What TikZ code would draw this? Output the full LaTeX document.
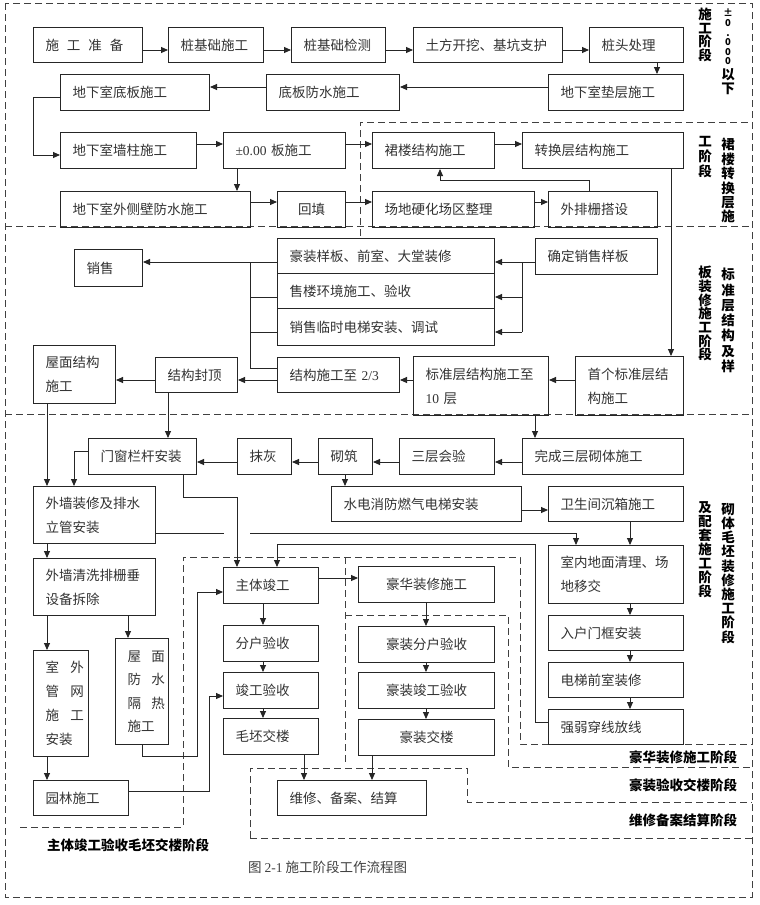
\documentclass[tikz,border=0pt]{standalone}
\usepackage{fontspec}
\setmainfont{Noto Sans CJK SC}
\newfontfamily\lat{Liberation Serif}
\usetikzlibrary{arrows.meta}
\tikzset{
  box/.style={draw=black!85, line width=1pt, inner xsep=12pt, inner ysep=2pt, align=left,
    font=\fontsize{13.5}{24}\selectfont, text=black!80},
  ln/.style={line width=0.9pt, draw=black!85},
  arr/.style={ln, -{Triangle[length=7pt,width=6pt]}},
  zone/.style={line width=1pt, draw=black!75, dash pattern=on 7pt off 4pt},
  lab/.style={inner sep=0pt, align=center, text=black},
}
\newcommand\bx[7][]{%
  \pgfmathsetmacro\bw{#5-#3}\pgfmathsetmacro\bh{#6-#4}\pgfmathsetmacro\tw{#5-#3-24}%
  \node[box,minimum width=\bw pt,minimum height=\bh pt,text width=\tw pt,anchor=north west,#1] (#2) at (#3,#4) {#7};}
\begin{document}
\begin{tikzpicture}[x=1pt,y=-1pt]
\fill[white] (0,0) rectangle (760,905);
\useasboundingbox (0,0) rectangle (760,905);

% ---------- zones ----------
\draw[zone] (5,3) rectangle (752,897);
\draw[zone] (5,226) -- (752,226);
\draw[zone] (360,236) -- (360,122) -- (752,122);
\draw[zone] (5,414) -- (752,414);
\draw[zone] (20,827) -- (183,827) -- (183,557) -- (520,557) -- (520,744) -- (752,744);
\draw[zone] (345,557) -- (345,763);
\draw[zone] (345,615) -- (508,615) -- (508,767) -- (752,767);
\draw[zone] (250,838) -- (250,768) -- (467,768) -- (467,802) -- (752,802);
\draw[zone] (250,838) -- (752,838);

% ---------- boxes ----------
\bx{n1}{33}{27}{142}{62}{施\hspace{8pt}工\hspace{8pt}准\hspace{8pt}备}
\bx{n2}{168}{27}{263}{62}{桩基础施工}
\bx{n3}{291}{27}{385}{62}{桩基础检测}
\bx{n4}{413}{27}{562}{62}{土方开挖、基坑支护}
\bx{n5}{589}{27}{683}{62}{桩头处理}
\bx{n6}{548}{74}{683}{110}{地下室垫层施工}
\bx{n7}{266}{74}{399}{110}{底板防水施工}
\bx{n8}{60}{74}{209}{110}{地下室底板施工}
\bx{n9}{60}{132}{196}{168}{地下室墙柱施工}
\bx{n10}{223}{132}{345}{168}{{\lat ±0.00} 板施工}
\bx{n11}{372}{132}{494}{168}{裙楼结构施工}
\bx{n12}{522}{132}{683}{168}{转换层结构施工}
\bx{n13}{60}{191}{250}{227}{地下室外侧壁防水施工}
\bx[align=center]{n14}{277}{191}{345}{227}{回填}
\bx{n15}{372}{191}{534}{227}{场地硬化场区整理}
\bx{n16}{548}{191}{657}{227}{外排栅搭设}

\bx{n17}{277}{238}{494}{273}{豪装样板、前室、大堂装修}
\bx{n18}{277}{273}{494}{308}{售楼环境施工、验收}
\bx{n19}{277}{308}{494}{345}{销售临时电梯安装、调试}
\bx{n20}{535}{238}{657}{274}{确定销售样板}
\bx{n21}{74}{249}{142}{286}{销售}
\bx{n22}{277}{357}{399}{392}{结构施工至 {\lat 2/3}}
\bx{n23}{155}{357}{237}{392}{结构封顶}
\bx{n24}{33}{345}{115}{403}{屋面结构\\施工}
\bx{n25}{413}{356}{548}{415}{标准层结构施工至\\{\lat 10} 层}
\bx{n26}{575}{356}{683}{415}{首个标准层结\\构施工}

\bx{n27}{88}{438}{196}{474}{门窗栏杆安装}
\bx{n28}{237}{438}{291}{474}{抹灰}
\bx{n29}{318}{438}{372}{474}{砌筑}
\bx{n30}{399}{438}{494}{474}{三层会验}
\bx{n31}{522}{438}{683}{474}{完成三层砌体施工}
\bx{n32}{331}{486}{521}{521}{水电消防燃气电梯安装}
\bx{n33}{548}{486}{683}{521}{卫生间沉箱施工}
\bx{n34}{33}{486}{155}{543}{外墙装修及排水\\立管安装}
\bx{n35}{33}{558}{155}{615}{外墙清洗排栅垂\\设备拆除}
\bx{n36}{548}{545}{683}{603}{室内地面清理、场\\地移交}
\bx{n37}{223}{567}{318}{603}{主体竣工}
\bx[align=center]{n38}{358}{566}{494}{602}{豪华装修施工}
\bx{n39}{223}{625}{318}{661}{分户验收}
\bx[align=center]{n40}{358}{626}{494}{662}{豪装分户验收}
\bx{n41}{223}{672}{318}{708}{竣工验收}
\bx[align=center]{n42}{358}{672}{494}{708}{豪装竣工验收}
\bx{n43}{223}{718}{318}{754}{毛坯交楼}
\bx[align=center]{n44}{358}{719}{494}{755}{豪装交楼}
\bx{n45}{548}{615}{683}{650}{入户门框安装}
\bx{n46}{548}{662}{683}{697}{电梯前室装修}
\bx{n47}{548}{709}{683}{744}{强弱穿线放线}
\bx[font=\fontsize{13.5}{23.8}\selectfont]{n48}{33}{650}{88}{756}{\mbox{室\hspace{11.5pt}外}\\\mbox{管\hspace{11.5pt}网}\\\mbox{施\hspace{11.5pt}工}\\安装}
\bx[font=\fontsize{13.5}{23.5}\selectfont]{n49}{115}{638}{168}{744}{\mbox{屋\hspace{10.5pt}面}\\\mbox{防\hspace{10.5pt}水}\\\mbox{隔\hspace{10.5pt}热}\\施工}
\bx{n50}{33}{780}{128}{815}{园林施工}
\bx{n51}{277}{780}{426}{815}{维修、备案、结算}

% ---------- connectors ----------
\draw[arr] (n1.east |- 0,50) -- (n2.west |- 0,50);
\draw[arr] (n2.east |- 0,50) -- (n3.west |- 0,50);
\draw[arr] (n3.east |- 0,50) -- (n4.west |- 0,50);
\draw[arr] (n4.east |- 0,50) -- (n5.west |- 0,50);
\draw[arr] (n5.south -| 657,0) -- (n6.north -| 657,0);
\draw[arr] (n6.west |- 0,87) -- (n7.east |- 0,87);
\draw[arr] (n7.west |- 0,87) -- (n8.east |- 0,87);
\draw[arr] (n8.west |- 0,97) -- (33,97) |- (n9.west |- 0,155);
\draw[arr] (n9.east |- 0,144) -- (n10.west |- 0,144);
\draw[arr] (n10.east |- 0,144) -- (n11.west |- 0,144);
\draw[arr] (n11.east |- 0,144) -- (n12.west |- 0,144);
\draw[arr] (n10.south -| 237,0) -- (n13.north -| 237,0);
\draw[arr] (n13.east |- 0,202) -- (n14.west |- 0,202);
\draw[arr] (n14.east |- 0,202) -- (n15.west |- 0,202);
\draw[arr] (n15.east |- 0,202) -- (n16.west |- 0,202);
\draw[arr] (n16.north -| 589,0) -- (589,180) -| (n11.south -| 440,0);
\draw[arr] (n12.south -| 671,0) -- (n26.north -| 671,0);

\coordinate (jr1) at (522,262);
\coordinate (jr2) at (522,297);
\coordinate (jr3) at (522,332);
\draw[arr] (n20.west |- jr1) -- (n17.east |- jr1);
\draw[ln] (jr1) -- (jr3);
\draw[arr] (jr2) -- (n18.east |- jr2);
\draw[arr] (jr3) -- (n19.east |- jr3);
\coordinate (jl1) at (250,262);
\coordinate (jl2) at (250,297);
\coordinate (jl3) at (250,332);
\coordinate (jl4) at (250,368);
\draw[arr] (n17.west |- jl1) -- (n21.east |- jl1);
\draw[ln] (jl1) -- (jl4) -- (n22.west |- jl4);
\draw[ln] (jl2) -- (n18.west |- jl2);
\draw[ln] (jl3) -- (n19.west |- jl3);
\draw[arr] (n26.west |- 0,380) -- (n25.east |- 0,380);
\draw[arr] (n25.west |- 0,380) -- (n22.east |- 0,380);
\draw[arr] (n22.west |- 0,380) -- (n23.east |- 0,380);
\draw[arr] (n23.west |- 0,380) -- (n24.east |- 0,380);
\draw[arr] (n23.south -| 168,0) -- (n27.north -| 168,0);
\draw[arr] (n24.south -| 47,0) -- (n34.north -| 47,0);
\draw[arr] (n25.south -| 535,0) -- (n31.north -| 535,0);

\draw[arr] (n31.west |- 0,462) -- (n30.east |- 0,462);
\draw[arr] (n30.west |- 0,462) -- (n29.east |- 0,462);
\draw[arr] (n29.west |- 0,462) -- (n28.east |- 0,462);
\draw[arr] (n28.west |- 0,462) -- (n27.east |- 0,462);
\draw[arr] (n29.south -| 345,0) -- (n32.north -| 345,0);
\draw[arr] (n32.east |- 0,510) -- (n33.west |- 0,510);
\draw[arr] (n33.south -| 630,0) -- (n36.north -| 630,0);
\draw[arr] (n27.west |- 0,451) -| (n34.north -| 74,0);
\draw[arr] (n27.south -| 183,0) |- (237,497) -- (n37.north -| 237,0);
\draw[ln] (n34.east |- 0,533) -- (224,533);
\draw[arr] (250,533) -| (n36.north -| 576,0);
\draw[arr] (n47.west |- 0,722) -| (535,544) -| (n37.north -| 277,0);
\draw[arr] (n34.south -| 47,0) -- (n35.north -| 47,0);
\draw[arr] (n35.south -| 47,0) -- (n48.north -| 47,0);
\draw[arr] (n35.south -| 128,0) -- (n49.north -| 128,0);
\draw[arr] (n48.south -| 47,0) -- (n50.north -| 47,0);
\draw[arr] (n50.east |- 0,791) -| (209,696) -- (n41.west |- 0,696);
\draw[arr] (n49.south -| 142,0) |- (197,756) |- (n37.west |- 0,592);
\draw[arr] (n37.south -| 263,0) -- (n39.north -| 263,0);
\draw[arr] (n39.south -| 263,0) -- (n41.north -| 263,0);
\draw[arr] (n41.south -| 263,0) -- (n43.north -| 263,0);
\draw[arr] (n37.east |- 0,578) -- (n38.west |- 0,578);
\draw[arr] (n38.south -| 426,0) -- (n40.north -| 426,0);
\draw[arr] (n40.south -| 426,0) -- (n42.north -| 426,0);
\draw[arr] (n42.south -| 426,0) -- (n44.north -| 426,0);
\draw[arr] (n43.south -| 304,0) -- (n51.north -| 304,0);
\draw[arr] (n44.south -| 372,0) -- (n51.north -| 372,0);
\draw[arr] (n36.south -| 630,0) -- (n45.north -| 630,0);
\draw[arr] (n45.south -| 630,0) -- (n46.north -| 630,0);
\draw[arr] (n46.south -| 630,0) -- (n47.north -| 630,0);

% ---------- stage labels ----------
\node[lab,anchor=north,font=\fontsize{9.5}{9.6}\selectfont\bfseries] (s1a) at (728,9) {±\\0\\.\\0\\0\\0};
\node[lab,anchor=north,font=\fontsize{13.5}{14}\selectfont\bfseries] (s1b) at (728,68) {以\\下};
\node[lab,anchor=north,font=\fontsize{13.5}{13.5}\selectfont\bfseries] (s1c) at (705,8) {施\\工\\阶\\段};
\node[lab,anchor=north,font=\fontsize{13.5}{14.4}\selectfont\bfseries] (s2a) at (728,138) {裙\\楼\\转\\换\\层\\施};
\node[lab,anchor=north,font=\fontsize{13.5}{15}\selectfont\bfseries] (s2b) at (705,136) {工\\阶\\段};
\node[lab,anchor=north,font=\fontsize{13.5}{15.3}\selectfont\bfseries] (s3a) at (728,268) {标\\准\\层\\结\\构\\及\\样};
\node[lab,anchor=north,font=\fontsize{13.5}{13.7}\selectfont\bfseries] (s3b) at (705,266) {板\\装\\修\\施\\工\\阶\\段};
\node[lab,anchor=north,font=\fontsize{13.5}{14.2}\selectfont\bfseries] (s4a) at (728,503) {砌\\体\\毛\\坯\\装\\修\\施\\工\\阶\\段};
\node[lab,anchor=north,font=\fontsize{13.5}{14}\selectfont\bfseries] (s4b) at (705,501) {及\\配\\套\\施\\工\\阶\\段};
\node[lab,font=\fontsize{13.5}{14}\selectfont\bfseries] (s5) at (683,757) {豪华装修施工阶段};
\node[lab,font=\fontsize{13.5}{14}\selectfont\bfseries] (s6) at (683,785) {豪装验收交楼阶段};
\node[lab,font=\fontsize{13.5}{14}\selectfont\bfseries] (s7) at (683,820) {维修备案结算阶段};
\node[lab,font=\fontsize{13.5}{14}\selectfont\bfseries] (s8) at (128,845) {主体竣工验收毛坯交楼阶段};
\node[lab,anchor=west,font=\fontsize{13.5}{14}\selectfont,text=black!75] (cap) at (248,867) {图 {\lat 2-1}\hspace{3pt}施工阶段工作流程图};
\end{tikzpicture}
\end{document}
